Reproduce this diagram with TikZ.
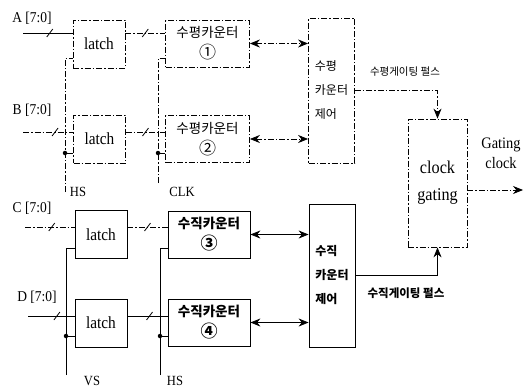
\documentclass[tikz,border=0pt]{standalone}
\usepackage{fontspec}
\setmainfont{Liberation Serif}[FakeStretch=0.9]
\newfontfamily\kr{Noto Sans CJK KR}
\usetikzlibrary{arrows.meta, calc}

\begin{document}
\begin{tikzpicture}[
    x=1pt, y=-1pt,
    line width=0.8pt,
    dsig/.style={dash pattern=on 6pt off 2pt on 1.5pt off 2pt},
    blk/.style={draw, rectangle, inner sep=0pt, align=center},
    latchbox/.style={blk, minimum width=52pt, minimum height=48pt, font=\fontsize{17}{20}\selectfont},
    cntbox/.style={blk, minimum width=84pt, minimum height=47pt, font=\kr\fontsize{13.5}{21}\selectfont},
    ctrlbox/.style={blk, minimum width=46pt, align=left, font=\kr\fontsize{12}{24}\selectfont},
    sig/.style={font=\fontsize{15}{18}\selectfont},
    pin/.style={font=\fontsize{14}{16}\selectfont},
    dot/.style={circle, fill, solid, inner sep=0pt, minimum size=4.5pt},
    bidir/.style={{Stealth[length=10pt,width=8pt]}-{Stealth[length=10pt,width=8pt]}},
    tip/.style={-{Stealth[length=10pt,width=8pt]}},
    busmark/.pic={\draw[solid] (-3,4) -- (3,-4);},
]
\useasboundingbox (0,0) rectangle (525,388);

% --- Horizontal path (upper half, dashed) ---
\node[latchbox, dsig] (lat1) at (99,44) {latch};
\node[latchbox, dsig] (lat2) at (99.5,139) {latch};
\node[cntbox, dsig] (cnt1) at (207.5,43.5) {수평카운터\\{\fontsize{17}{15}\selectfont ①}};
\node[cntbox, dsig] (cnt2) at (207.5,139) {수평카운터\\{\fontsize{17}{15}\selectfont ②}};
\node[ctrlbox, dsig, minimum height=145pt] (ctrl1) at (331.5,90.5) {수평\\카운터\\제어};

% --- Vertical path (lower half, solid) ---
\node[latchbox] (lat3) at (101,234.5) {latch};
\node[latchbox] (lat4) at (101,323) {latch};
\node[cntbox, minimum width=82pt] (cnt3) at (209,234.5) {\bfseries 수직카운터\\{\fontsize{17}{15}\selectfont\bfseries ③}};
\node[cntbox, minimum width=82pt] (cnt4) at (209,322.5) {\bfseries 수직카운터\\{\fontsize{17}{15}\selectfont\bfseries ④}};
\node[ctrlbox, minimum height=143pt, font=\kr\bfseries\fontsize{12}{24}\selectfont] (ctrl2) at (332,275.5) {수직\\카운터\\제어};

% --- Clock gating block ---
\node[blk, dsig, minimum width=59pt, minimum height=128pt, font=\fontsize{18}{27}\selectfont] (gate) at (437.5,183) {clock\\gating};

% --- Input labels and bus inputs ---
\node[sig] (lblA) at (32,18) {A [7:0]};
\node[sig] (lblB) at (32,110) {B [7:0]};
\node[sig] (lblC) at (32,208) {C [7:0]};
\node[sig] (lblD) at (37,297) {D [7:0]};
\coordinate (ain) at (23,33);
\coordinate (bin) at (23,132);
\coordinate (cin) at (25,227);
\coordinate (din) at (28,316);

\draw (ain) -- pic[pos=0.54]{busmark} (ain -| lat1.west);
\draw[dsig] (bin) -- pic[pos=0.64]{busmark} (bin -| lat2.west);
\draw[dsig] (cin) -- pic[pos=0.54]{busmark} (cin -| lat3.west);
\draw (din) -- pic[pos=0.62]{busmark} (din -| lat4.west);

% --- Latch to counter buses ---
\draw[dsig] (lat1.east |- ain) -- pic[pos=0.5]{busmark} (ain -| cnt1.west);
\draw[dsig] (lat2.east |- bin) -- pic[pos=0.5]{busmark} (bin -| cnt2.west);
\draw[dsig] (lat3.east |- cin) -- pic[pos=0.5]{busmark} (cin -| cnt3.west);
\draw (lat4.east |- din) -- pic[pos=0.55]{busmark} (din -| cnt4.west);

% --- Strobe lines: HS / CLK (upper), VS / HS (lower) ---
\coordinate (hs1) at (65,192);
\coordinate (clk1) at (158,183);
\coordinate (vs2) at (66,375);
\coordinate (hs2) at (160,375);
\coordinate (l1ck) at ($(lat1.west)+(0,14)$);
\coordinate (l2ck) at ($(lat2.west)+(0,14)$);
\coordinate (c1ck) at ($(cnt1.west)+(0,14.5)$);
\coordinate (c2ck) at ($(cnt2.west)+(0,14)$);
\coordinate (l3ck) at ($(lat3.west)+(0,13.5)$);
\coordinate (l4ck) at ($(lat4.west)+(0,13)$);
\coordinate (c3ck) at ($(cnt3.west)+(0,13.5)$);
\coordinate (c4ck) at ($(cnt4.west)+(0,13.5)$);

\draw[dsig] (hs1) |- (l1ck);
\draw[dsig] (l2ck) -- (hs1 |- l2ck) node[dot]{};
\draw[dsig] (clk1) |- (c1ck);
\draw[dsig] (c2ck) -- (clk1 |- c2ck) node[dot]{};
\draw (vs2) |- (l3ck);
\draw (l4ck) -- (vs2 |- l4ck) node[dot]{};
\draw (hs2) |- (c3ck);
\draw (c4ck) -- (hs2 |- c4ck) node[dot]{};

\node[pin] (lblHS1) at (78,192) {HS};
\node[pin] (lblCLK) at (182,192) {CLK};
\node[pin] (lblVS) at (92,381) {VS};
\node[pin] (lblHS2) at (175,381) {HS};

% --- Counter <-> control ---
\draw[dsig, bidir] (cnt1.east) -- (cnt1.east -| ctrl1.west);
\draw[dsig, bidir] (cnt2.east) -- (cnt2.east -| ctrl1.west);
\draw[bidir] (cnt3.east) -- (cnt3.east -| ctrl2.west);
\draw[bidir] (cnt4.east) -- (cnt4.east -| ctrl2.west);

% --- Gating pulses into clock gating ---
\draw[dsig, tip] (ctrl1.east) -| (gate.north);
\draw[tip] (ctrl2.east) -| (gate.south);
\node[font=\kr\fontsize{10.5}{12}\selectfont] (hgp) at (405,72) {수평게이팅 펄스};
\node[font=\kr\bfseries\fontsize{11.5}{13}\selectfont] (vgp) at (406,293) {수직게이팅 펄스};

% --- Gated clock output ---
\coordinate (gout) at (523,190);
\draw[dsig, tip] (gate.east |- gout) -- (gout);
\node[align=center, font=\fontsize{16}{20}\selectfont] (lblout) at (501,153) {Gating\\clock};

\end{tikzpicture}
\end{document}
